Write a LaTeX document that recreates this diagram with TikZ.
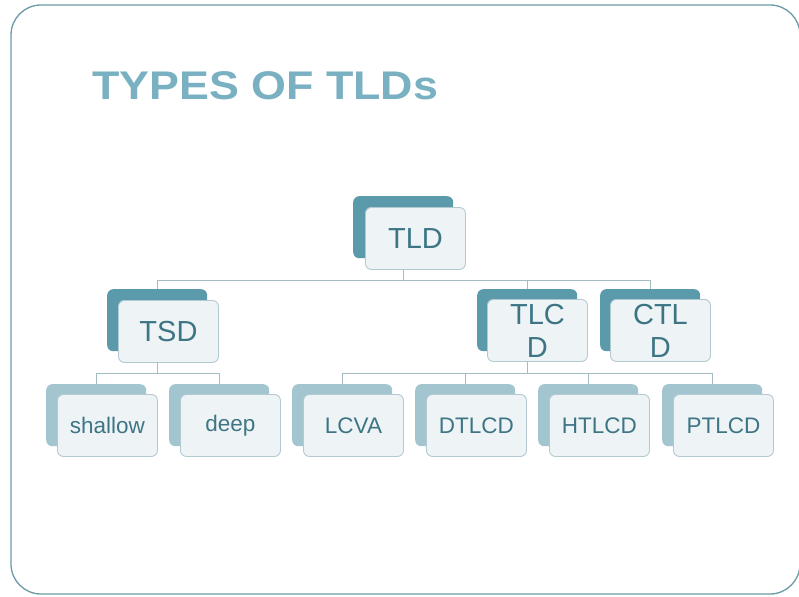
\documentclass[tikz,border=0pt]{standalone}
\usepackage{fontspec}
\setmainfont{Liberation Sans}
\usetikzlibrary{positioning}

\definecolor{framecol}{HTML}{6C9AA7}
\definecolor{titlecol}{HTML}{79B0C2}
\definecolor{textcol}{HTML}{3E7585}
\definecolor{darkback}{HTML}{5A9AAB}
\definecolor{lightback}{HTML}{A3C5D0}
\definecolor{frontfill}{HTML}{EEF4F6}
\definecolor{frontline}{HTML}{B3C9D1}
\definecolor{conncol}{HTML}{A3BBC3}

\pgfdeclarelayer{bg}
\pgfdeclarelayer{lines}
\pgfsetlayers{bg,lines,main}

\tikzset{
  slideframe/.style={draw=framecol, line width=1.3pt, rounded corners=30pt},
  backbox/.style={rectangle, rounded corners=6pt, minimum width=100pt, minimum height=62pt,
    inner sep=0pt, anchor=north west},
  backdark/.style={backbox, fill=darkback},
  backlight/.style={backbox, fill=lightback},
  frontbox/.style={rectangle, rounded corners=6pt, minimum width=100pt, minimum height=62pt,
    inner sep=0pt, anchor=north west, fill=frontfill, draw=frontline, line width=0.9pt,
    text=textcol, align=center},
  bigtext/.style={font=\fontsize{29}{33}\selectfont},
  smalltext/.style={font=\fontsize{22.5}{26}\selectfont},
  conn/.style={draw=conncol, line width=1pt},
}

\begin{document}
\begin{tikzpicture}[x=1pt, y=-1pt]
\useasboundingbox (0,0) rectangle (799,596);

% page and slide frame
\begin{pgfonlayer}{bg}
  \fill[white] (0,0) rectangle (799,596);
  \begin{scope}
    \clip (0,0) rectangle (799,596);
    \draw[slideframe] (11,5) rectangle (800,594);
  \end{scope}
\end{pgfonlayer}

% title
\node[anchor=base west, inner sep=0pt, text=titlecol,
      font=\fontsize{40}{48}\selectfont\bfseries] (title) at (92,100)
      {\scalebox{1.12}[1]{TYPES OF TLDs}};

% level 0
\node[backdark] (tldb) at (353,196) {};
\node[frontbox, bigtext] (tld) at (365,207) {TLD};

% level 1
\node[backdark] (tsdb) at (107,289) {};
\node[frontbox, bigtext] (tsd) at (118,300) {TSD};
\node[backdark] (tlcdb) at (477,289) {};
\node[frontbox, bigtext] (tlcd) at (487,299) {TLC\\D};
\node[backdark] (ctldb) at (600,289) {};
\node[frontbox, bigtext] (ctld) at (610,299) {CTL\\D};

% level 2
\node[backlight] (shallowb) at (46,384) {};
\node[frontbox, smalltext] (shallow) at (57,394) {shallow};
\node[backlight] (deepb) at (169,384) {};
\node[frontbox, smalltext] (deep) at (180,394) {deep};
\node[backlight] (lcvab) at (292,384) {};
\node[frontbox, smalltext] (lcva) at (303,394) {LCVA};
\node[backlight] (dtlcdb) at (415,384) {};
\node[frontbox, smalltext] (dtlcd) at (426,394) {DTLCD};
\node[backlight] (htlcdb) at (538,384) {};
\node[frontbox, smalltext] (htlcd) at (549,394) {HTLCD};
\node[backlight] (ptlcdb) at (662,384) {};
\node[frontbox, smalltext] (ptlcd) at (673,394) {PTLCD};

% connectors, behind the boxes
\coordinate (bar1) at (0,280);
\coordinate (bar2) at (0,373);
\begin{pgfonlayer}{lines}
  \draw[conn] (tldb.south) -- (tldb.south |- bar1) -| (tsdb.north);
  \draw[conn] (tldb.south |- bar1) -| (tlcdb.north);
  \draw[conn] (tldb.south |- bar1) -| (ctldb.north);

  \draw[conn] (tsdb.south) -- (tsdb.south |- bar2) -| (shallowb.north);
  \draw[conn] (tsdb.south |- bar2) -| (deepb.north);

  \draw[conn] (tlcdb.south) -- (tlcdb.south |- bar2) -| (lcvab.north);
  \draw[conn] (tlcdb.south |- bar2) -| (dtlcdb.north);
  \draw[conn] (tlcdb.south |- bar2) -| (htlcdb.north);
  \draw[conn] (tlcdb.south |- bar2) -| (ptlcdb.north);
\end{pgfonlayer}
\end{tikzpicture}
\end{document}
